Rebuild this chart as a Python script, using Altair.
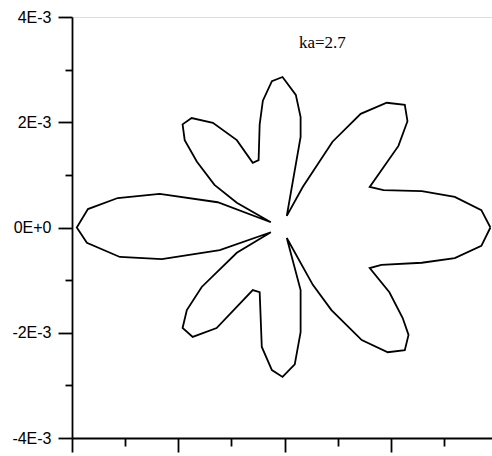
import altair as alt
import pandas as pd

# Closed contour of the pattern, traced counter-clockwise from the right lobe (units of 1E-3)
x_vals = [3.87, 3.70, 3.20, 2.58, 1.86, 1.60, 2.14, 2.31, 2.26, 1.92, 1.43, 0.90, 0.34, 0.04,
          0.30, 0.30, 0.21, -0.04, -0.24, -0.41, -0.47, -0.49, -0.60, -0.90, -1.35, -1.75,
          -1.92, -1.88, -1.65, -1.32, -0.90, -0.26, -1.26, -2.35, -3.14, -3.70, -3.91, -3.72,
          -3.10, -2.31, -1.22, -0.26, -0.90, -1.56, -1.84, -1.92, -1.73, -1.28, -0.60, -0.47,
          -0.43, -0.24, -0.04, 0.19, 0.30, 0.30, 0.04, 0.53, 0.88, 1.45, 1.94, 2.26, 2.33,
          2.22, 1.97, 1.60, 1.82, 2.58, 3.20, 3.70, 3.87]
y_vals = [0.00, 0.33, 0.58, 0.69, 0.71, 0.77, 1.55, 2.02, 2.33, 2.37, 2.16, 1.63, 0.77, 0.22,
          1.72, 2.10, 2.52, 2.86, 2.78, 2.41, 1.96, 1.28, 1.23, 1.66, 1.99, 2.08, 1.96, 1.66,
          1.25, 0.81, 0.47, 0.10, 0.48, 0.64, 0.56, 0.35, 0.00, -0.29, -0.56, -0.60, -0.43,
          -0.09, -0.48, -1.13, -1.57, -1.91, -2.08, -1.91, -1.19, -1.23, -2.27, -2.71, -2.84,
          -2.60, -1.99, -1.19, -0.20, -1.09, -1.57, -2.14, -2.37, -2.33, -2.04, -1.72, -1.23,
          -0.77, -0.71, -0.67, -0.58, -0.35, 0.00]

x_ticks = [-4e-3, -3e-3, -2e-3, -1e-3, 0.0, 1e-3, 2e-3, 3e-3]
y_ticks = [-4e-3, -3e-3, -2e-3, -1e-3, 0.0, 1e-3, 2e-3, 3e-3, 4e-3]

annotation = "ka=2.7"
annotation_x = 0.71e-3
annotation_y = 3.51e-3

df = pd.DataFrame({
    "i": list(range(len(x_vals))),
    "x": [v * 1e-3 for v in x_vals],
    "y": [v * 1e-3 for v in y_vals],
})

even = "round(datum.value * 1000) % 2 == 0"

x_axis = alt.Axis(
    values=x_ticks, labels=False, title=None, grid=False,
    domainColor="black", domainWidth=1.8, tickColor="black", tickWidth=1.8,
    tickSize={"condition": {"test": even, "value": 14}, "value": 8},
)
y_axis = alt.Axis(
    values=y_ticks, title=None, grid=False,
    domainColor="black", domainWidth=1.8, tickColor="black", tickWidth=1.8,
    tickSize={"condition": {"test": even, "value": 14}, "value": 7},
    labelExpr=(f"{even} ? (datum.value == 0 ? '0E+0' : "
               "toString(round(datum.value * 1000)) + 'E-3') : ''"),
    labelFont="Liberation Sans", labelFontSize=16, labelColor="black",
    labelPadding=7, labelBaseline="middle",
)

x_scale = alt.Scale(domain=[-4e-3, 3.9e-3], nice=False, zero=False)
y_scale = alt.Scale(domain=[-4e-3, 4e-3], nice=False, zero=False)

curve = alt.Chart(df).mark_line(color="black", strokeWidth=1.8).encode(
    x=alt.X("x:Q", scale=x_scale, axis=x_axis),
    y=alt.Y("y:Q", scale=y_scale, axis=y_axis),
    order="i:O",
)

label = alt.Chart(pd.DataFrame({"t": [annotation]})).mark_text(
    font="Liberation Serif", fontSize=17, color="black", align="center", baseline="middle"
).encode(
    x=alt.datum(annotation_x),
    y=alt.datum(annotation_y),
    text="t:N",
)

chart = (curve + label).properties(
    width=420, height=421,
    padding={"left": 72, "top": 17, "right": 0, "bottom": 18},
    autosize=alt.AutoSizeParams(type="none"),
).configure_view(stroke=None).configure(background="white")

chart.save("out.html", embed_options={"renderer": "svg", "actions": False})
